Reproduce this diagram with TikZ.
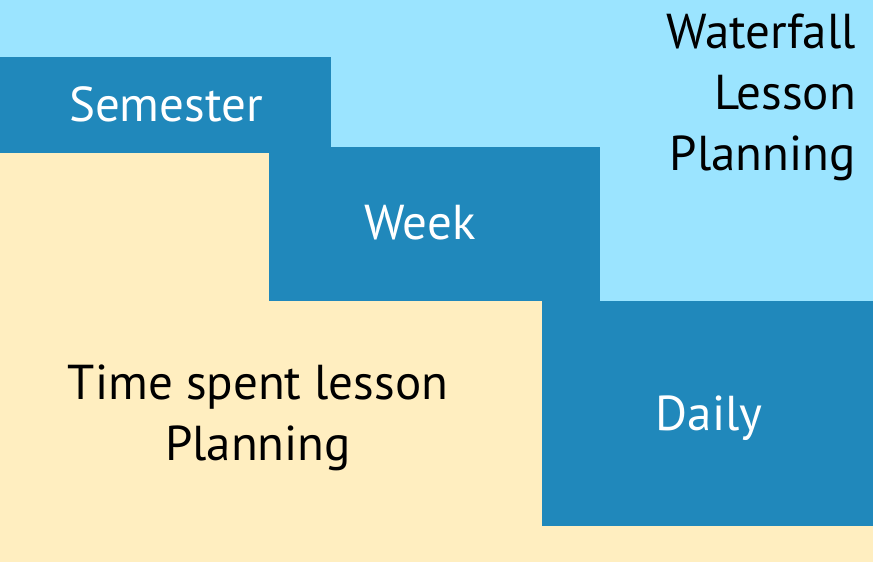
\documentclass[tikz,border=0pt]{standalone}
\usepackage{fontspec}
\setmainfont{PT Sans}
\definecolor{skyblue}{RGB}{155,228,255}
\definecolor{creamy}{RGB}{255,238,192}
\definecolor{stepblue}{RGB}{32,136,187}
\tikzset{
    steptext/.style={text=white, font=\fontsize{49}{58}\selectfont, anchor=base, inner sep=0pt},
    sidetext/.style={text=black, font=\fontsize{49}{61}\selectfont, align=center, inner sep=0pt}
}
\begin{document}
\begin{tikzpicture}[x=1pt,y=-1pt]
            \useasboundingbox (0,0) rectangle (873,562);
            \fill[creamy] (0,0) rectangle (873,562);
            \fill[skyblue] (0,0)--(873,0)--(873,301)--(600,301)--(600,147)--(331,147)--(331,57)--(0,57)--cycle;
            \fill[stepblue] (0,57) rectangle (331,153);
            \fill[stepblue] (269,147) rectangle (600,301);
            \fill[stepblue] (542,301) rectangle (873,526);
            \node[steptext] (semester) at (166,121) {Semester};
            \node[steptext] (week) at (420,239) {Week};
            \node[steptext] (daily) at (709,430) {Daily};
            % multi-line nodes sit on the baseline of their last line
            \node[sidetext, align=right, anchor=base east] (waterfall) at (856,170) {Waterfall\\Lesson\\Planning};
            \node[sidetext, anchor=base] (timespent) at (258,460) {Time spent lesson\\Planning};
        \end{tikzpicture}
\end{document}
